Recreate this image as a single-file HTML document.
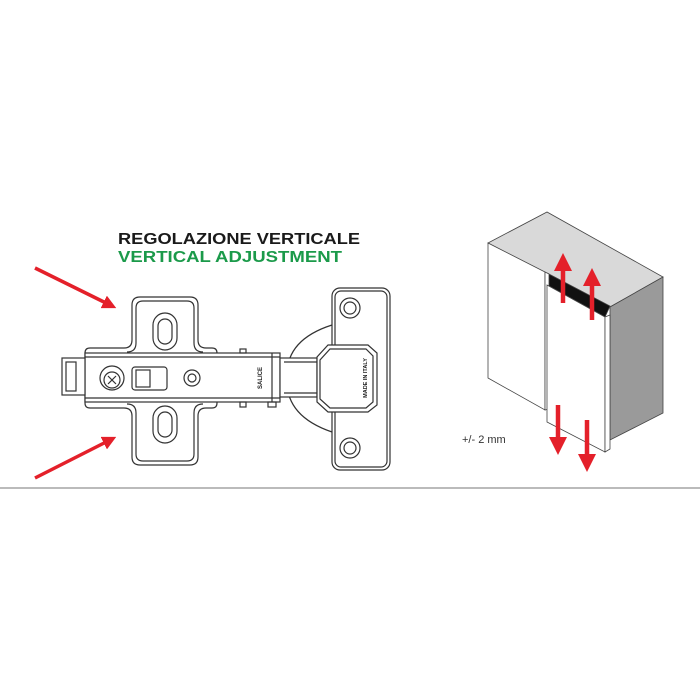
<!DOCTYPE html>
<html><head><style>
html,body{margin:0;padding:0;background:#fff;}
svg{display:block;}
</style></head><body>
<svg width="700" height="700" viewBox="0 0 700 700" xmlns="http://www.w3.org/2000/svg">
<defs>
<marker id="ah" markerWidth="4" markerHeight="4" refX="2" refY="2" orient="auto" markerUnits="strokeWidth">
<path d="M0,0 L4,2 L0,4 z" fill="#e4202a"/>
</marker>
<marker id="ah2" markerWidth="4" markerHeight="4" refX="2" refY="2" orient="auto" markerUnits="strokeWidth">
<path d="M0,0 L4,2 L0,4 z" fill="#e4202a"/>
</marker>
</defs>
<rect width="700" height="700" fill="#fff"/>
<text x="118" y="244" font-family="Liberation Sans, sans-serif" font-weight="bold" font-size="16" fill="#1a1a1a" textLength="242" lengthAdjust="spacingAndGlyphs">REGOLAZIONE VERTICALE</text>
<text x="118" y="262" font-family="Liberation Sans, sans-serif" font-weight="bold" font-size="16" fill="#1b9a4a" textLength="224" lengthAdjust="spacingAndGlyphs">VERTICAL ADJUSTMENT</text>

<g fill="none" stroke="#333" stroke-width="1.2">
<path d="M332,325 Q285,340 287,378 Q285,416 332,432" />
<path d="M140,297 H190 Q198,297 198,305 V340 Q198,348 206,348 H212 Q217,348 217,353 V403 Q217,408 212,408 H206 Q198,408 198,416 V457 Q198,465 190,465 H140 Q132,465 132,457 V416 Q132,408 124,408 H90 Q85,408 85,403 V353 Q85,348 90,348 H124 Q132,348 132,340 V305 Q132,297 140,297 Z" fill="#fff"/>
<path d="M143,301 H187 Q194,301 194,308 V343 Q194,352 203,352 M143,301 Q136,301 136,308 V343 Q136,352 127,352 M143,461 H187 Q194,461 194,454 V413 Q194,404 203,404 M143,461 Q136,461 136,454 V413 Q136,404 127,404"/>
<rect x="153" y="313" width="24" height="37" rx="12" />
<rect x="158" y="319" width="14" height="25" rx="7" />
<rect x="153" y="406" width="24" height="37" rx="12" />
<rect x="158" y="412" width="14" height="25" rx="7" />
<rect x="85" y="353" width="195" height="49" fill="#fff"/>
<line x1="85" y1="357" x2="280" y2="357"/>
<line x1="85" y1="398" x2="280" y2="398"/>
<rect x="62" y="358" width="23" height="37" fill="#fff"/>
<rect x="66" y="362" width="10" height="29"/>
<circle cx="112" cy="378" r="12" fill="#fff"/>
<circle cx="112" cy="380" r="8"/>
<path d="M108,376 L116,384 M116,376 L108,384"/>
<rect x="132" y="367" width="35" height="23" rx="3"/>
<rect x="136" y="370" width="14" height="17"/>
<circle cx="192" cy="378" r="8"/>
<circle cx="192" cy="378" r="4"/>
<rect x="240" y="402" width="6" height="5"/>
<rect x="268" y="402" width="8" height="5"/>
<rect x="240" y="349" width="6" height="4"/>
<line x1="272" y1="353" x2="272" y2="402"/>
<rect x="280" y="358" width="37" height="39" fill="#fff"/>
<line x1="284" y1="362" x2="317" y2="362"/>
<line x1="284" y1="393" x2="317" y2="393"/>
<rect x="332" y="288" width="58" height="182" rx="8" fill="#fff"/>
<rect x="335" y="291" width="52" height="176" rx="6"/>
<circle cx="350" cy="308" r="10"/><circle cx="350" cy="308" r="6"/>
<circle cx="350" cy="448" r="10"/><circle cx="350" cy="448" r="6"/>
<path d="M328,345 H368 L377,353 V405 L368,412 H328 L317,402 V357 Z" fill="#fff"/>
<path d="M330,349 H366 L373,356 V402 L366,408 H330 L320,399 V360 Z"/>
</g>
<text transform="translate(262,378) rotate(-90)" text-anchor="middle" font-family="Liberation Sans, sans-serif" font-weight="bold" font-size="6" fill="#222">SALICE</text>
<text transform="translate(367,378) rotate(-90)" text-anchor="middle" font-family="Liberation Sans, sans-serif" font-weight="bold" font-size="5.5" fill="#222">MADE IN ITALY</text>

<line x1="35" y1="268" x2="110" y2="305" stroke="#e4202a" stroke-width="3.5" marker-end="url(#ah)"/>
<line x1="35" y1="478" x2="110" y2="440" stroke="#e4202a" stroke-width="3.5" marker-end="url(#ah)"/>

<g stroke="#444" stroke-width="0.8">
<polygon points="488,243 547,212 663,277 610,307" fill="#d9d9d9"/>
<polygon points="610,307 663,277 663,413 610,440" fill="#9a9a9a"/>
<polygon points="547,273 610,306 605,317 547,285" fill="#111"/>
<polygon points="488,243 545,272 545,410 488,378" fill="#fff"/>
<polygon points="545,272 549,274 549,409 545,410" fill="#fff"/>
<polygon points="547,285 605,317 605,452 547,422" fill="#fff"/>
<polygon points="605,317 610,315 610,449 605,452" fill="#fff"/>
</g>
<g stroke="#e4202a" stroke-width="4.5">
<line x1="563" y1="303" x2="563" y2="262" marker-end="url(#ah2)"/>
<line x1="592" y1="320" x2="592" y2="277" marker-end="url(#ah2)"/>
<line x1="558" y1="405" x2="558" y2="446" marker-end="url(#ah2)"/>
<line x1="587" y1="420" x2="587" y2="463" marker-end="url(#ah2)"/>
</g>
<text x="462" y="443" font-family="Liberation Sans, sans-serif" font-size="11" fill="#333">+/- 2 mm</text>

<line x1="0" y1="488" x2="700" y2="488" stroke="#777" stroke-width="1"/>
</svg>
</body></html>
